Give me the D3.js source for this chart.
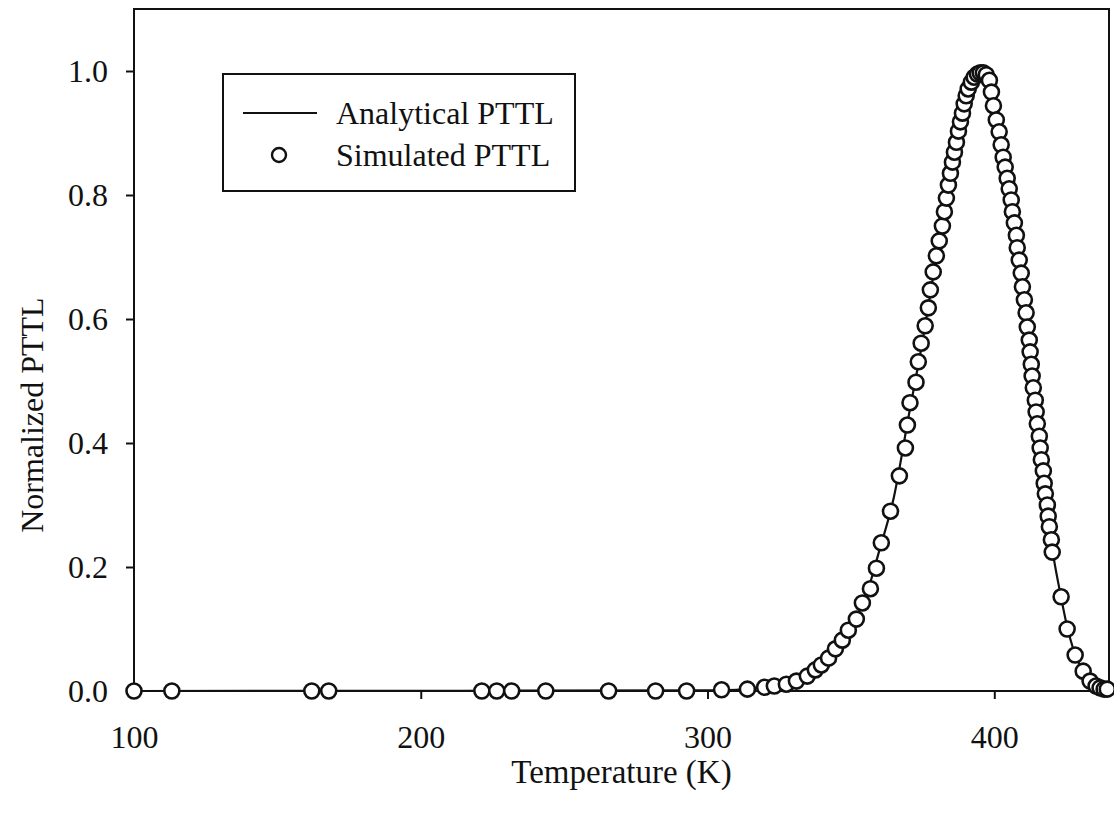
<!DOCTYPE html>
<html>
<head>
<meta charset="utf-8">
<script src="https://cdn.jsdelivr.net/npm/d3@7"></script>
<style>
  body { margin: 0; background: #fff; }
  text { font-family: "Liberation Serif", "Times New Roman", serif; fill: #111; }
  .axis path { display: none; }
  .axis line { stroke: #111; stroke-width: 2; }
  .axis text { font-size: 32px; }
</style>
</head>
<body>
<div class="chart"></div>
<script>
// simulated PTTL points (temperature K, normalized intensity)
var simT = [100, 113.2, 162.0, 167.9, 221.3, 226.5, 231.7, 243.6, 265.5, 281.9, 292.7, 304.9, 313.9,
  319.9, 323.3, 327.5, 331.0, 334.8, 337.6, 339.7, 342.2, 344.6, 347.0, 349.1, 351.9, 354.0, 356.8,
  358.9, 360.6, 363.8, 366.9, 369.0, 369.7, 370.6, 372.7, 373.5, 374.5, 375.9, 377.0, 377.7, 378.7,
  379.8, 380.8, 381.9, 382.6, 383.3, 384.0, 384.7, 385.4, 386.1, 386.8, 387.5, 388.2, 388.9, 389.5,
  390.2, 390.9, 392.0, 393.0, 394.1, 395.1, 396.2, 397.2, 398.3,
  399.0, 399.7, 400.7, 401.7, 402.4, 403.1, 403.8, 404.5, 405.2, 405.9, 406.3, 407.0, 407.7, 408.0,
  408.7, 409.4, 409.8, 410.5, 411.1, 411.5, 412.2, 412.5, 412.9, 413.2, 413.6, 414.3, 414.6, 415.0,
  415.7, 416.0, 416.4, 417.1, 417.4, 417.8, 418.5, 418.8, 419.2, 419.9, 420.2, 423.3, 425.4, 428.2,
  431.0, 433.4, 435.5, 436.9, 438.3, 439.4];
var simV = [0, 0, 0, 0, 0, 0, 0, 0, 0, 0, 0, 0.002, 0.003,
  0.006, 0.008, 0.011, 0.016, 0.024, 0.034, 0.042, 0.053, 0.068, 0.082, 0.098, 0.116, 0.142, 0.165,
  0.198, 0.239, 0.290, 0.347, 0.392, 0.429, 0.465, 0.498, 0.531, 0.561, 0.589, 0.618, 0.647, 0.676,
  0.702, 0.726, 0.750, 0.773, 0.795, 0.816, 0.835, 0.853, 0.869, 0.885, 0.903, 0.918, 0.932, 0.947,
  0.960, 0.971, 0.982, 0.990, 0.995, 0.997, 0.997, 0.994, 0.985,
  0.966, 0.944, 0.921, 0.902, 0.881, 0.861, 0.845, 0.827, 0.810, 0.792, 0.773, 0.755, 0.735, 0.715,
  0.695, 0.674, 0.652, 0.631, 0.610, 0.587, 0.566, 0.547, 0.527, 0.508, 0.489, 0.469, 0.450, 0.431,
  0.411, 0.392, 0.373, 0.355, 0.335, 0.318, 0.300, 0.282, 0.265, 0.244, 0.224, 0.152, 0.100, 0.058,
  0.032, 0.016, 0.008, 0.005, 0.003, 0.003];

// analytical curve
var anaT = [100, 300, 310, 320, 325, 330, 335, 340, 345, 350, 355, 360, 365, 370, 375, 380, 385, 390,
  393, 396, 399, 402, 405, 408, 411, 414, 417, 420, 423, 426, 429, 432, 435, 440];
var anaV = [0, 0.001, 0.002, 0.006, 0.009, 0.015, 0.024, 0.043, 0.070, 0.104, 0.150, 0.228, 0.313,
  0.440, 0.565, 0.707, 0.845, 0.955, 0.990, 0.997, 0.966, 0.890, 0.815, 0.715, 0.612, 0.477, 0.357,
  0.236, 0.158, 0.092, 0.050, 0.025, 0.010, 0.002];

var xTicks = [100, 200, 300, 400];
var yTicks = [0, 0.2, 0.4, 0.6, 0.8, 1.0];

var width = 1114, height = 821;
var margin = { top: 9, right: 5, bottom: 130, left: 134 };

var svg = d3.select(".chart").append("svg")
  .attr("width", width)
  .attr("height", height);

var x = d3.scaleLinear().domain([100, 440]).range([margin.left, width - margin.right]);
var y = d3.scaleLinear().domain([0, 1.1]).range([height - margin.bottom, margin.top]);

svg.append("g")
  .attr("class", "axis")
  .attr("transform", "translate(0," + y(0) + ")")
  .call(d3.axisBottom(x).tickValues(xTicks).tickSize(8).tickPadding(26).tickFormat(d3.format("d")));

svg.append("g")
  .attr("class", "axis")
  .attr("transform", "translate(" + x(100) + ",0)")
  .call(d3.axisLeft(y).tickValues(yTicks).tickSize(8).tickPadding(18).tickFormat(d3.format(".1f")));

// frame
svg.append("rect")
  .attr("x", x(100)).attr("y", y(1.1))
  .attr("width", x(440) - x(100)).attr("height", y(0) - y(1.1))
  .attr("fill", "none").attr("stroke", "#111").attr("stroke-width", 2);

var ana = anaT.map(function(t, i) { return [t, anaV[i]]; });
var sim = simT.map(function(t, i) { return [t, simV[i]]; });

var line = d3.line()
  .x(function(d) { return x(d[0]); })
  .y(function(d) { return y(d[1]); })
  .curve(d3.curveMonotoneX);

svg.append("path")
  .datum(ana)
  .attr("d", line)
  .attr("fill", "none")
  .attr("stroke", "#111")
  .attr("stroke-width", 2.2);

svg.append("g").selectAll("circle")
  .data(sim)
  .enter().append("circle")
  .attr("cx", function(d) { return x(d[0]); })
  .attr("cy", function(d) { return y(d[1]); })
  .attr("r", 7.5)
  .attr("fill", "#fff")
  .attr("stroke", "#111")
  .attr("stroke-width", 2.6);

// axis titles
svg.append("text")
  .attr("x", (x(100) + x(440)) / 2)
  .attr("y", 783)
  .attr("text-anchor", "middle")
  .style("font-size", "33px")
  .text("Temperature (K)");

svg.append("text")
  .attr("transform", "translate(43," + y(0.445) + ") rotate(-90)")
  .attr("text-anchor", "middle")
  .style("font-size", "32px")
  .text("Normalized PTTL");

// legend
var legend = svg.append("g");
legend.append("rect")
  .attr("x", 223).attr("y", 74).attr("width", 352).attr("height", 117)
  .attr("fill", "#fff").attr("stroke", "#111").attr("stroke-width", 2);
legend.append("line")
  .attr("x1", 243).attr("x2", 317).attr("y1", 113).attr("y2", 113)
  .attr("stroke", "#111").attr("stroke-width", 2);
legend.append("circle")
  .attr("cx", 279).attr("cy", 155).attr("r", 7)
  .attr("fill", "#fff").attr("stroke", "#111").attr("stroke-width", 2.4);
legend.append("text").attr("x", 336).attr("y", 124).style("font-size", "32px").text("Analytical PTTL");
legend.append("text").attr("x", 336).attr("y", 166).style("font-size", "32px").text("Simulated PTTL");
</script>
</body>
</html>
